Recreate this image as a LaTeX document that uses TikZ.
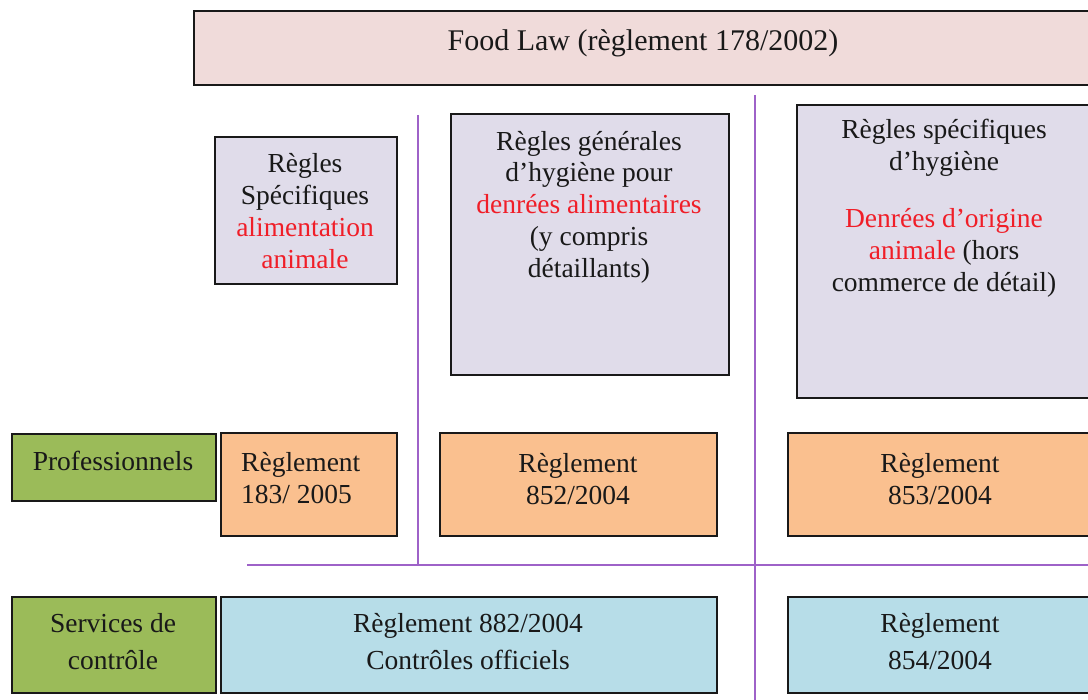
\documentclass[tikz,border=0pt]{standalone}
\usepackage{fontspec}
\setmainfont{Liberation Serif}
\definecolor{lawpink}{RGB}{240,219,218}
\definecolor{rulelav}{RGB}{224,220,234}
\definecolor{regorange}{RGB}{250,192,143}
\definecolor{actgreen}{RGB}{155,187,89}
\definecolor{ctlblue}{RGB}{183,221,232}
\definecolor{splitline}{RGB}{158,98,200}
\definecolor{hilite}{RGB}{240,30,40}
\begin{document}
\begin{tikzpicture}[x=1pt,y=-1pt,
  panel/.style={draw=black!90, line width=1.8pt, rectangle, inner sep=0pt, anchor=north west},
  txt/.style={font=\fontsize{27.5}{31.8}\selectfont, align=center, inner sep=0pt, text=black!90},
  widetxt/.style={txt, font=\fontsize{27.5}{37}\selectfont},
  divider/.style={draw=splitline, line width=2.6pt}
]
\useasboundingbox (0,0) rectangle (1088,700);
\clip (0,0) rectangle (1088,700);

% dividing lines
\coordinate (v1top) at (418,115);
\coordinate (v1bot) at (418,565);
\coordinate (v2top) at (755,95);
\coordinate (v2bot) at (755,702);
\coordinate (hleft) at (247,565);
\coordinate (hright) at (1090,565);
\draw[divider] (v1top) -- (v1bot);
\draw[divider] (v2top) -- (v2bot);
\draw[divider] (hleft) -- (hright);

% top frame
\node[panel, fill=lawpink, minimum width=900, minimum height=74] (law) at (193,10) {};
\node[txt, font=\fontsize{30}{34}\selectfont] (lawt) at (643,43) {Food Law (règlement 178/2002)};

% rule families
\node[panel, fill=rulelav, minimum width=182, minimum height=147] (feed) at (214,136) {};
\node[txt] (feedt) at (305,211) {Règles\\Spécifiques\\\textcolor{hilite}{alimentation}\\\textcolor{hilite}{animale}};

\node[panel, fill=rulelav, minimum width=278, minimum height=261] (gen) at (450,113) {};
\node[txt] (gent) at (589,207) {Règles générales\\d’hygiène pour\\\textcolor{hilite}{denrées alimentaires}\\(y compris\\détaillants)};

\node[panel, fill=rulelav, minimum width=300, minimum height=293] (spec) at (796,104) {};
\node[txt] (spect1) at (944,148) {Règles spécifiques\\d’hygiène};
\node[txt] (spect2) at (944,253) {\textcolor{hilite}{Denrées d’origine}\\\textcolor{hilite}{animale} (hors\\commerce de détail)};

% professionals row
\node[panel, fill=actgreen, minimum width=204, minimum height=67] (pro) at (11,433) {};
\node[txt] (prot) at (113,461) {Professionnels};
\node[panel, fill=regorange, minimum width=176, minimum height=103] (r183) at (220,432) {};
\node[txt, align=left, anchor=west] (r183t) at (241,478) {Règlement\\183/ 2005};
\node[panel, fill=regorange, minimum width=277, minimum height=103] (r852) at (439,432) {};
\node[txt] (r852t) at (578,479) {Règlement\\852/2004};
\node[panel, fill=regorange, minimum width=310, minimum height=103] (r853) at (787,432) {};
\node[txt] (r853t) at (940,479) {Règlement\\853/2004};

% control services row
\node[panel, fill=actgreen, minimum width=204, minimum height=96] (ctl) at (11,596) {};
\node[widetxt] (ctlt) at (113,642) {Services de\\contrôle};
\node[panel, fill=ctlblue, minimum width=496, minimum height=96] (r882) at (220,596) {};
\node[widetxt] (r882t) at (468,642) {Règlement 882/2004\\Contrôles officiels};
\node[panel, fill=ctlblue, minimum width=310, minimum height=96] (r854) at (787,596) {};
\node[widetxt] (r854t) at (940,642) {Règlement\\854/2004};
\end{tikzpicture}
\end{document}
